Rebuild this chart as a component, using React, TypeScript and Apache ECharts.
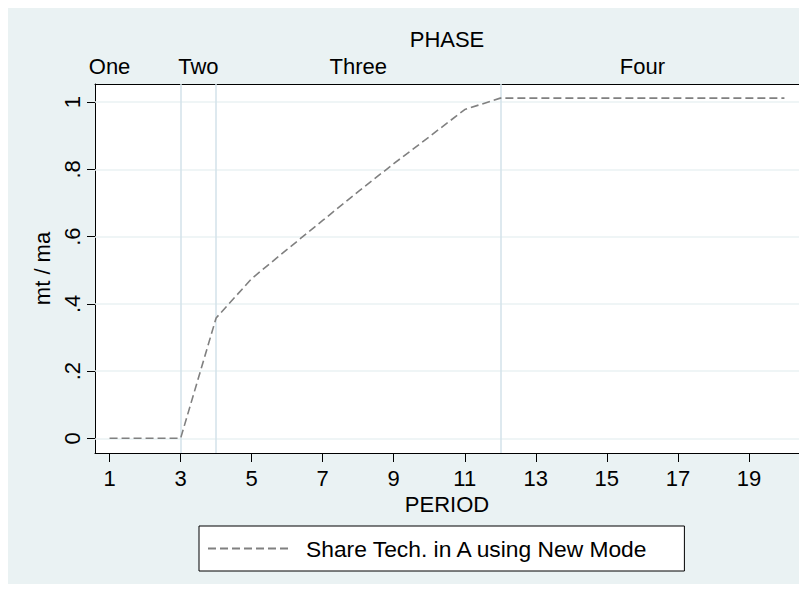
import React, { useEffect, useRef } from "react";
import * as echarts from "echarts";

const periods = [1, 2, 3, 4, 5, 6, 7, 8, 9, 10, 11, 12, 13, 14, 15, 16, 17, 18, 19, 20];
const shareNewMode = [0, 0, 0, 0.358, 0.475, 0.562, 0.648, 0.734, 0.817, 0.897, 0.978, 1.012, 1.012, 1.012, 1.012, 1.012, 1.012, 1.012, 1.012, 1.012];
const seriesName = "Share Tech. in A using New Mode";

const yTicks = [0, 0.2, 0.4, 0.6, 0.8, 1];
const yTickLabels = ["0", ".2", ".4", ".6", ".8", "1"];
const xTicks = [1, 3, 5, 7, 9, 11, 13, 15, 17, 19];
const phaseBreaks = [3, 4, 12];
const phaseNames = ["One", "Two", "Three", "Four"];
const phaseLabelPos = [1, 3.5, 8, 16];

const FONT = "'Liberation Sans', Arial, sans-serif";

function lookup(vals: number[], labels: string[], v: number): string {
  for (let i = 0; i < vals.length; i++) {
    if (Math.abs(vals[i] - v) < 1e-6) return labels[i];
  }
  return "";
}

export default function App() {
  const ref = useRef<HTMLDivElement>(null);
  useEffect(() => {
    if (!ref.current) return;
    const chart = echarts.init(ref.current, null, { renderer: "svg" });
    const xMin = 0.59;
    const xMax = 20.41;
    chart.setOption({
      animation: false,
      backgroundColor: "#EAF2F3",
      textStyle: { fontFamily: FONT },
      grid: {
        left: 87,
        right: 8,
        top: 76,
        bottom: 131,
        show: true,
        backgroundColor: "#ffffff",
        borderWidth: 0,
        containLabel: false,
      },
      legend: {
        data: [seriesName],
        left: 191,
        top: 518,
        padding: [11, 35, 11, 8],
        itemWidth: 83,
        itemHeight: 14,
        itemStyle: { opacity: 0 },
        backgroundColor: "#ffffff",
        borderColor: "#000000",
        borderWidth: 1,
        borderRadius: 0,
        textStyle: { fontSize: 22.8, color: "#000", fontFamily: FONT, padding: [0, 0, 0, 10] },
      },
      xAxis: [
        {
          type: "value",
          position: "bottom",
          min: xMin,
          max: xMax,
          axisLine: { show: true, onZero: false, lineStyle: { color: "#000", width: 1 } },
          axisTick: { show: true, customValues: xTicks, length: 9, lineStyle: { color: "#000" } },
          axisLabel: { customValues: xTicks, margin: 14, fontSize: 22, color: "#000", fontFamily: FONT },
          splitLine: { show: false },
          name: "PERIOD",
          nameLocation: "middle",
          nameGap: 36,
          nameTextStyle: { fontSize: 22, color: "#000", fontFamily: FONT },
        },
        {
          type: "value",
          position: "top",
          min: xMin,
          max: xMax,
          axisLine: { show: true, onZero: false, lineStyle: { color: "#000", width: 1 } },
          axisTick: { show: false },
          axisLabel: {
            customValues: phaseLabelPos,
            margin: 7,
            fontSize: 22,
            color: "#000",
            fontFamily: FONT,
            formatter: (v: number) => lookup(phaseLabelPos, phaseNames, v),
          },
          splitLine: { show: false },
          name: "PHASE",
          nameLocation: "middle",
          nameGap: 30,
          nameTextStyle: { fontSize: 22, color: "#000", fontFamily: FONT },
        },
      ],
      yAxis: {
        type: "value",
        min: -0.0437,
        max: 1.054,
        axisLine: { show: true, onZero: false, lineStyle: { color: "#000", width: 1 } },
        axisTick: { show: true, customValues: yTicks, length: 8, lineStyle: { color: "#000" } },
        axisLabel: {
          customValues: yTicks,
          rotate: 90,
          margin: 12,
          fontSize: 22,
          color: "#000",
          fontFamily: FONT,
          formatter: (v: number) => lookup(yTicks, yTickLabels, v),
        },
        splitLine: { show: false },
        name: "mt / ma",
        nameLocation: "middle",
        nameGap: 38,
        nameRotate: 90,
        nameTextStyle: { fontSize: 22, color: "#000", fontFamily: FONT },
      },
      series: [
        {
          name: "_gridlines",
          type: "line",
          xAxisIndex: 0,
          yAxisIndex: 0,
          data: [[periods[0], shareNewMode[0]]],
          symbol: "none",
          lineStyle: { opacity: 0 },
          silent: true,
          z: 1,
          markLine: {
            silent: true,
            symbol: ["none", "none"],
            label: { show: false },
            animation: false,
            data: [
              ...yTicks.map((v) => ({ yAxis: v, lineStyle: { color: "#EAF2F3", width: 1.5, type: "solid" } })),
              ...phaseBreaks.map((v) => ({ xAxis: v, lineStyle: { color: "#D3E2EA", width: 1.5, type: "solid" } })),
            ],
          },
        },
        {
          name: seriesName,
          type: "line",
          xAxisIndex: 0,
          yAxisIndex: 0,
          data: periods.map((p, i) => [p, shareNewMode[i]]),
          symbol: "none",
          z: 5,
          lineStyle: { color: "#808080", width: 1.6, type: [8, 4] },
          itemStyle: { color: "#808080" },
        },
      ],
    });
    return () => chart.dispose();
  }, []);
  return <div ref={ref} style={{ width: 799, height: 576 }} />;
}
